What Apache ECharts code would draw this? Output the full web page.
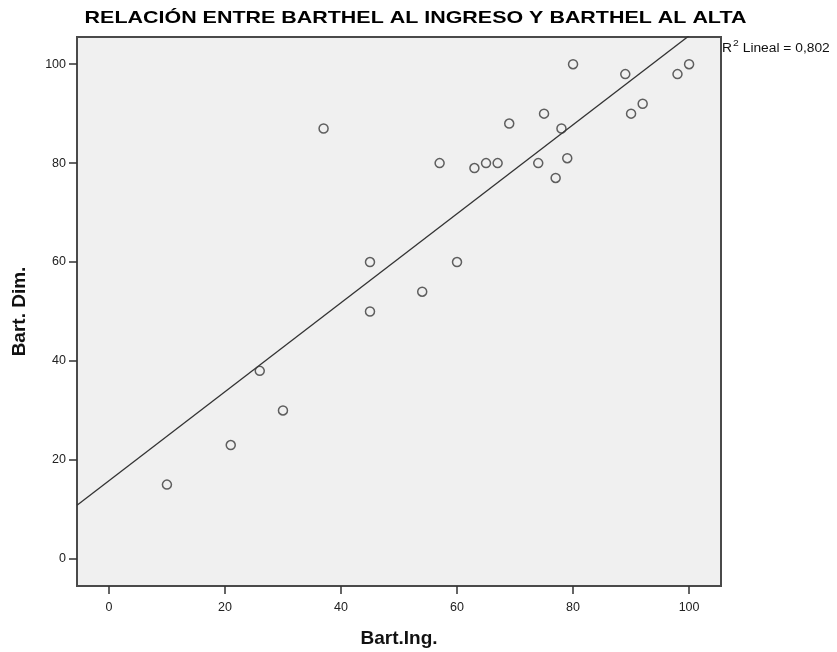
<!DOCTYPE html>
<html>
<head>
<meta charset="utf-8">
<script src="https://cdn.jsdelivr.net/npm/echarts@6/dist/echarts.min.js"></script>
<style>
  html, body { margin: 0; padding: 0; background: #fff; }
  #chart { width: 837px; height: 652px; }
</style>
</head>
<body>
<div id="chart"></div>
<script>
// Bart.Ing. (ingreso) y Bart. Dim. (alta)
var bartIng = [10, 21, 26, 30, 37, 45, 45, 54, 57, 60, 63, 65, 67, 69, 74, 75, 77, 78, 79, 80, 89, 90, 92, 98, 100];
var bartDim = [15, 23, 38, 30, 87, 60, 50, 54, 80, 60, 79, 80, 80, 88, 80, 90, 77, 87, 81, 100, 98, 90, 92, 98, 100];
var xTicks = [0, 20, 40, 60, 80, 100];
var yTicks = [0, 20, 40, 60, 80, 100];
var xRange = [-5.5, 105.5];
var yRange = [-5.5, 105.5];

var FONT = '"Liberation Sans", Arial, sans-serif';

// ajuste lineal
var n = bartIng.length, mx = 0, my = 0;
for (var i = 0; i < n; i++) { mx += bartIng[i]; my += bartDim[i]; }
mx /= n; my /= n;
var sxx = 0, sxy = 0, syy = 0;
for (var i = 0; i < n; i++) {
    var dx = bartIng[i] - mx, dy = bartDim[i] - my;
    sxx += dx * dx; sxy += dx * dy; syy += dy * dy;
}
var slope = sxy / sxx;
var intercept = my - slope * mx;
var r2 = (sxy * sxy) / (sxx * syy);

var points = bartIng.map(function (x, i) { return [x, bartDim[i]]; });
var fitLine = [
    [xRange[0], intercept + slope * xRange[0]],
    [xRange[1], intercept + slope * xRange[1]]
];

var chart = echarts.init(document.getElementById('chart'));
chart.setOption({
    backgroundColor: '#fff',
    animation: false,
    textStyle: { fontFamily: FONT },
    grid: {
        left: 77, top: 37, right: 116, bottom: 66,
        containLabel: false,
        outerBoundsMode: 'none',
        show: true,
        backgroundColor: '#f0f0f0',
        borderColor: '#4a4a4a',
        borderWidth: 2
    },
    xAxis: {
        type: 'value',
        min: xRange[0], max: xRange[1],
        name: 'Bart.Ing.',
        nameLocation: 'middle',
        nameGap: 43,
        nameTextStyle: { fontSize: 19, fontWeight: 'bold', color: '#111', fontFamily: FONT },
        axisLine: { show: true, onZero: false, lineStyle: { color: '#4a4a4a', width: 2 } },
        axisTick: { show: true, length: 8, customValues: xTicks, lineStyle: { color: '#333', width: 1.5 } },
        axisLabel: { customValues: xTicks, margin: 15, fontSize: 12.5, color: '#222', fontFamily: FONT },
        splitLine: { show: false }
    },
    yAxis: {
        type: 'value',
        min: yRange[0], max: yRange[1],
        name: 'Bart. Dim.',
        nameLocation: 'middle',
        nameGap: 48,
        nameTextStyle: { fontSize: 19, fontWeight: 'bold', color: '#111', fontFamily: FONT },
        axisLine: { show: true, onZero: false, lineStyle: { color: '#4a4a4a', width: 2 } },
        axisTick: { show: true, length: 8, customValues: yTicks, lineStyle: { color: '#333', width: 1.5 } },
        axisLabel: { customValues: yTicks, margin: 11, fontSize: 12.5, color: '#222', fontFamily: FONT },
        splitLine: { show: false }
    },
    graphic: [
        {
            type: 'text',
            x: 415.5, y: 18,
            scaleX: 1.3,
            style: {
                text: 'RELACIÓN ENTRE BARTHEL AL INGRESO Y BARTHEL AL ALTA',
                fontSize: 16.5, fontWeight: 'bold', fontFamily: FONT,
                fill: '#000', align: 'center', verticalAlign: 'middle'
            }
        },
        {
            type: 'text',
            x: 722, y: 47,
            scaleX: 1.15,
            style: {
                text: '{r|R}{s|2}{r| Lineal = ' + r2.toFixed(3).replace('.', ',') + '}',
                fontSize: 12, fontFamily: FONT,
                fill: '#111', align: 'left', verticalAlign: 'middle',
                rich: {
                    r: { fontSize: 12, fontFamily: FONT, fill: '#111', lineHeight: 16, verticalAlign: 'bottom' },
                    s: { fontSize: 9, fontFamily: FONT, fill: '#111', lineHeight: 10, verticalAlign: 'top', padding: [0, 0, 0, 1] }
                }
            }
        }
    ],
    series: [
        {
            type: 'line',
            data: fitLine,
            symbol: 'none',
            clip: true,
            silent: true,
            lineStyle: { color: '#333', width: 1.3 },
            z: 2
        },
        {
            type: 'scatter',
            data: points,
            symbol: 'circle',
            symbolSize: 9,
            itemStyle: { color: 'rgba(0,0,0,0)', borderColor: '#3a3a3a', borderWidth: 1.5 },
            z: 3
        }
    ]
});
</script>
</body>
</html>
